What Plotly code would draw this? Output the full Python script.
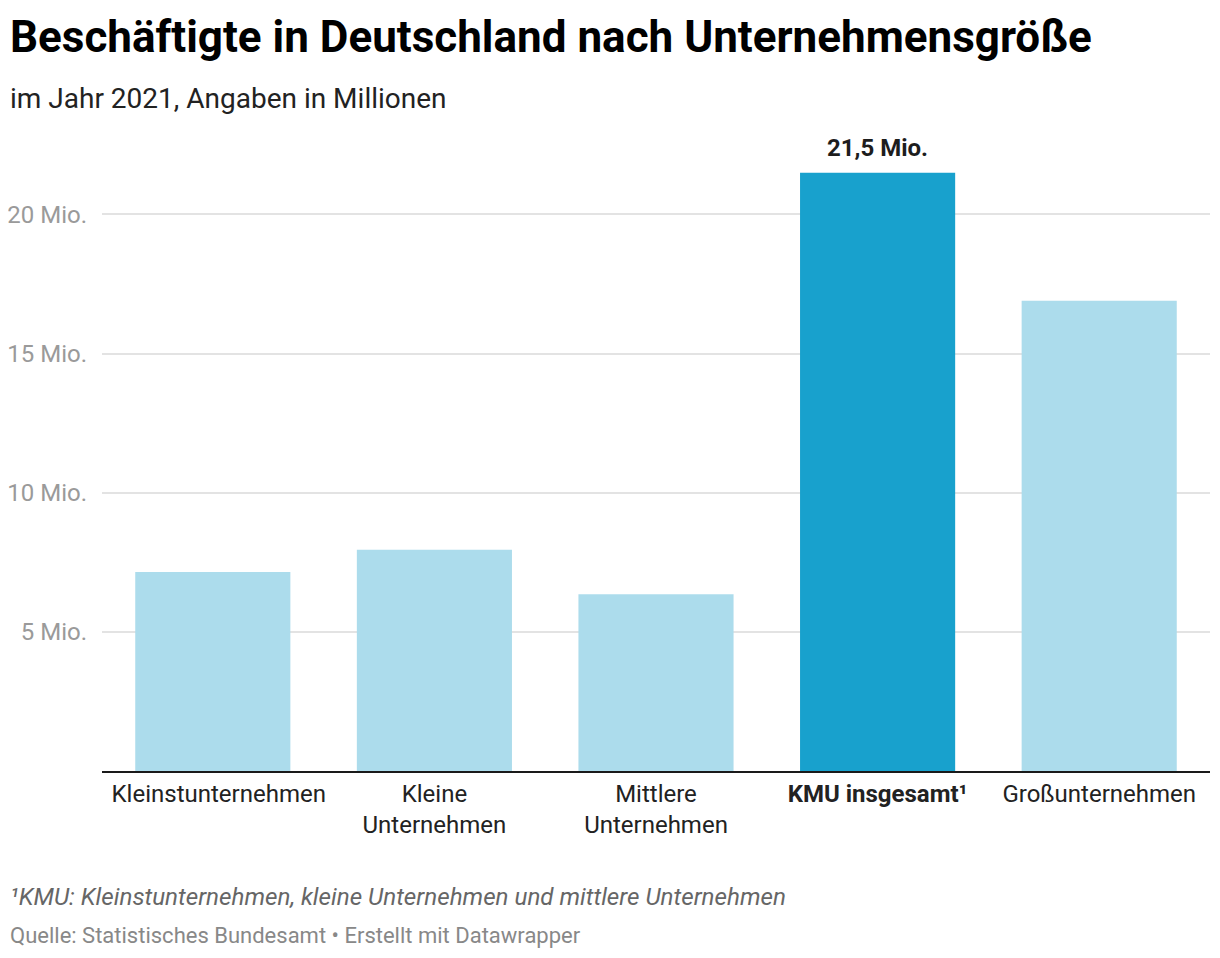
import plotly.graph_objects as go

categories = ["Kleinstunternehmen", "Kleine Unternehmen", "Mittlere Unternehmen",
              "KMU insgesamt¹", "Großunternehmen"]
tick_labels = ["\u00a0\u00a0Kleinstunternehmen", "Kleine<br>Unternehmen", "Mittlere<br>Unternehmen",
               "<b>KMU insgesamt¹</b>", "Großunternehmen"]
values = [7.15, 7.95, 6.35, 21.5, 16.9]
highlight = [False, False, False, True, False]
value_label = "21,5 Mio."
ytick_vals = [5, 10, 15, 20]
ytick_text = ["5 Mio.", "10 Mio.", "15 Mio.", "20 Mio."]

light = "#acdcec"
dark = "#18a1cd"
colors = [dark if h else light for h in highlight]

fig = go.Figure(go.Bar(
    x=categories, y=values, marker=dict(color=colors, line=dict(width=0)),
    hoverinfo="skip",
))

hi = highlight.index(True)
fig.add_annotation(x=categories[hi], y=values[hi], text="<b>" + value_label + "</b>",
                   showarrow=False, yanchor="bottom", yshift=9,
                   font=dict(family="Roboto", size=24, color="#1d1d1d"))

X0 = (8 - 102) / 1108
def py(p):
    return (771 - p) / 640

fig.add_annotation(xref="paper", yref="paper", x=X0, y=py(37),
                   xanchor="left", yanchor="middle", showarrow=False,
                   text="<b>Beschäftigte in Deutschland nach Unternehmensgröße</b>",
                   font=dict(family="Roboto", size=44, color="#000000"))
fig.add_annotation(xref="paper", yref="paper", x=X0, y=py(98),
                   xanchor="left", yanchor="middle", showarrow=False,
                   text="im Jahr 2021, Angaben in Millionen",
                   font=dict(family="Roboto", size=28, color="#222222"))
fig.add_annotation(xref="paper", yref="paper", x=X0, y=py(897),
                   xanchor="left", yanchor="middle", showarrow=False,
                   text="<i>¹KMU: Kleinstunternehmen, kleine Unternehmen und mittlere Unternehmen</i>",
                   font=dict(family="Roboto", size=24.2, color="#666666"))
fig.add_annotation(xref="paper", yref="paper", x=X0, y=py(935),
                   xanchor="left", yanchor="middle", showarrow=False,
                   text="Quelle: Statistisches Bundesamt • Erstellt mit Datawrapper",
                   font=dict(family="Roboto", size=22, color="#888888"))

fig.update_layout(
    width=1212, height=950,
    margin=dict(l=94, r=10, t=123, b=187),
    paper_bgcolor="white", plot_bgcolor="white",
    bargap=0.3,
    showlegend=False,
    font=dict(family="Roboto"),
    xaxis=dict(showline=True, linecolor="#1a1a1a", linewidth=2, ticks="",
               tickvals=categories, ticktext=tick_labels,
               tickfont=dict(family="Roboto", size=24, color="#222222"),
               showgrid=False, fixedrange=True, automargin=False),
    yaxis=dict(range=[0, 23], tickvals=ytick_vals, ticktext=ytick_text,
               showgrid=True, gridcolor="#e3e3e3", gridwidth=2, zeroline=False,
               ticks="", ticklabelstandoff=14, automargin=False,
               tickfont=dict(family="Roboto", size=24, color="#9a9a9a"),
               fixedrange=True),
)

fig.write_html("out.html")
